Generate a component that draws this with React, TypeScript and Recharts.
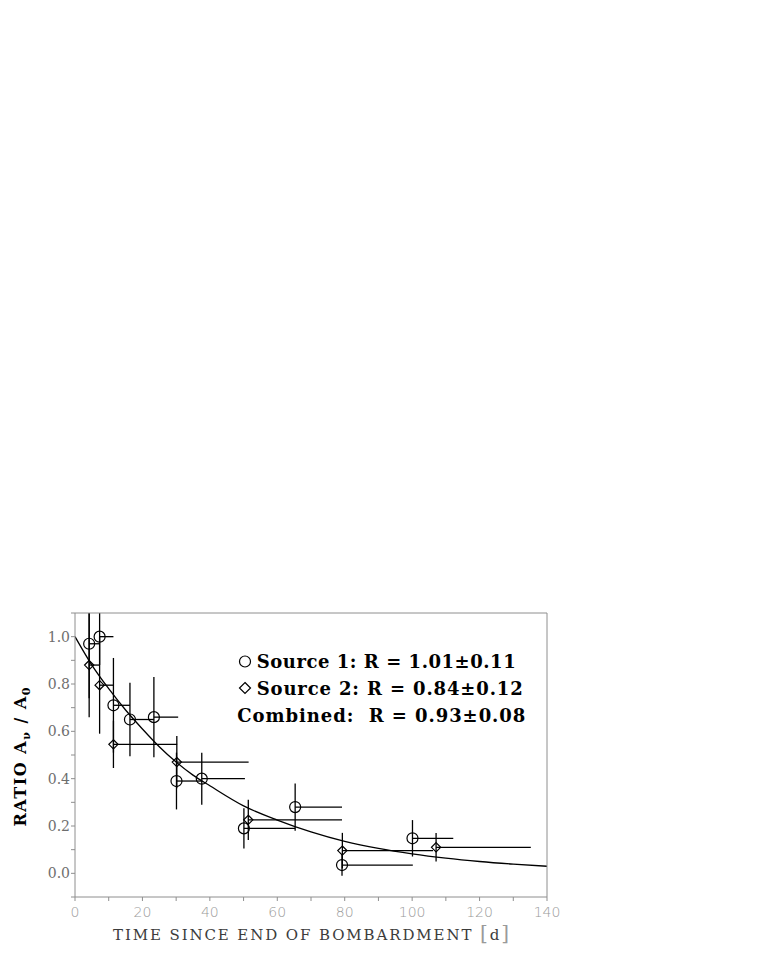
import React from 'react';
import {
  ComposedChart,
  Scatter,
  Line,
  XAxis,
  YAxis,
  ErrorBar,
  Label,
  Customized,
} from 'recharts';

// Source 1 (circles): time [d], ratio, ratio error, end of counting interval [d]
const S1_TIME = [4.2, 7.3, 11.4, 16.3, 23.4, 30.1, 37.6, 50.1, 65.3, 79.2, 100.1];
const S1_RATIO = [0.97, 1.0, 0.71, 0.65, 0.66, 0.39, 0.4, 0.19, 0.28, 0.035, 0.148];
const S1_ERR = [0.23, 0.12, 0.2, 0.155, 0.17, 0.12, 0.11, 0.085, 0.1, 0.045, 0.077];
const S1_END = [7.3, 11.4, 16.3, 23.4, 30.6, 37.6, 50.4, 65.3, 79.2, 100.2, 112.2];

// Source 2 (diamonds)
const S2_TIME = [4.2, 7.3, 11.4, 30.2, 51.4, 79.3, 107.1];
const S2_RATIO = [0.88, 0.795, 0.545, 0.47, 0.226, 0.096, 0.11];
const S2_ERR = [0.22, 0.205, 0.1, 0.11, 0.085, 0.075, 0.06];
const S2_END = [7.3, 11.4, 30.3, 51.5, 79.2, 106.2, 135.2];

// decay curve
const FIT_TIME = [0, 5, 10, 15, 20, 25, 30, 35, 40, 50, 60, 70, 80, 90, 100, 110, 120, 130, 140];
const FIT_RATIO = [1.0, 0.88, 0.78, 0.69, 0.61, 0.535, 0.47, 0.415, 0.37, 0.285, 0.225, 0.175, 0.135, 0.105, 0.082, 0.064, 0.05, 0.039, 0.03];

const X_TICKS = [0, 10, 20, 30, 40, 50, 60, 70, 80, 90, 100, 110, 120, 130, 140];
const Y_TICKS = [-0.1, 0, 0.1, 0.2, 0.3, 0.4, 0.5, 0.6, 0.7, 0.8, 0.9, 1.0, 1.1];

const LEGEND_LINES = [
  'Source 1: R = 1.01\u00b10.11',
  'Source 2: R = 0.84\u00b10.12',
  'Combined:  R = 0.93\u00b10.08',
];

const AXIS_GREY = '#8e8e8e';

type Row = { t: number; r: number; tErr: [number, number]; rErr: number };

function toRows(time: number[], ratio: number[], err: number[], end: number[]): Row[] {
  return time.map((t, i) => ({
    t,
    r: ratio[i],
    tErr: [0, end[i] - t],
    rErr: err[i],
  }));
}

const source1 = toRows(S1_TIME, S1_RATIO, S1_ERR, S1_END);
const source2 = toRows(S2_TIME, S2_RATIO, S2_ERR, S2_END);
const fit = FIT_TIME.map((t, i) => ({ t, r: FIT_RATIO[i] }));

const Ring = (p: any) => (
  <circle cx={p.cx} cy={p.cy} r={5.5} fill="none" stroke="#000" strokeWidth={1.2} />
);

const Diamond = (p: any) => {
  const s = 4.6;
  return (
    <path
      d={`M${p.cx},${p.cy - s}L${p.cx + s},${p.cy}L${p.cx},${p.cy + s}L${p.cx - s},${p.cy}Z`}
      fill="none"
      stroke="#000"
      strokeWidth={1.2}
    />
  );
};

const XTitle = () => (
  <text
    x={303}
    y={931.5}
    textAnchor="middle"
    fontFamily="DejaVu Serif"
    fontSize={15}
    fill="#3c3c3c"
    textLength={396}
    lengthAdjust="spacing"
    style={{ whiteSpace: 'pre' }}
  >
    TIME SINCE END OF BOMBARDMENT <tspan fill="#9a9a9a" fontSize={20}>[</tspan>d<tspan fill="#9a9a9a" fontSize={20}>]</tspan>
  </text>
);

const YTitle = () => (
  <text
    transform="translate(18,749) rotate(-90)"
    textAnchor="middle"
    fontFamily="DejaVu Serif"
    fontWeight="bold"
    fontSize={16}
    fill="#000"
    textLength={139}
    lengthAdjust="spacing"
  >
    RATIO A<tspan fontSize={11} dy={4}>{'\u03bd'}</tspan>
    <tspan dy={-4}> / A</tspan>
    <tspan fontSize={11} dy={4}>0</tspan>
  </text>
);

// legend block + clip rectangle for the error bars
const LegendBox = () => (
  <g fontFamily="DejaVu Serif" fontWeight="bold" fontSize={18} fill="#000">
    <defs>
      <clipPath id="plot-clip" clipPathUnits="userSpaceOnUse">
        <rect x={67} y={605} width={472} height={284} />
      </clipPath>
    </defs>
    <circle cx={237} cy={653.5} r={5.5} fill="none" stroke="#000" strokeWidth={1.2} />
    <path d="M237,674.5L242.5,680L237,685.5L231.5,680Z" fill="none" stroke="#000" strokeWidth={1.2} />
    <text x={248.7} y={660} textLength={259} lengthAdjust="spacing">{LEGEND_LINES[0]}</text>
    <text x={248.7} y={686.5} textLength={266} lengthAdjust="spacing">{LEGEND_LINES[1]}</text>
    <text x={229.3} y={713.5} textLength={288} lengthAdjust="spacing" style={{ whiteSpace: 'pre' }}>
      {LEGEND_LINES[2]}
    </text>
  </g>
);

const xLabel = (v: number) => (v % 20 === 0 ? String(v) : '');
const yLabel = (v: number) => {
  const k = Math.round(v * 10);
  return k >= 0 && k <= 10 && k % 2 === 0 ? (k / 10).toFixed(1) : '';
};

export default function App() {
  return (
    <div>
      <style>{'svg [class*="errorBar"] { clip-path: url(#plot-clip); }'}</style>
      <ComposedChart
        width={600}
        height={950}
        margin={{ top: 604, right: 60, bottom: 6, left: 7 }}
      >
        <XAxis
          xAxisId={0}
          dataKey="t"
          type="number"
          domain={[0, 140]}
          ticks={X_TICKS}
          interval={0}
          tickFormatter={xLabel}
          allowDataOverflow
          height={55}
          tickSize={4}
          tickMargin={6}
          axisLine={{ stroke: AXIS_GREY }}
          tickLine={{ stroke: AXIS_GREY }}
          tick={{ fill: '#9a9a9a', fontSize: 14, fontFamily: 'DejaVu Sans', fontWeight: 300 }}
        >
          <Label content={XTitle} />
        </XAxis>
        <XAxis
          xAxisId="top"
          orientation="top"
          dataKey="t"
          type="number"
          domain={[0, 140]}
          ticks={X_TICKS}
          interval={0}
          allowDataOverflow
          height={1}
          tickSize={4}
          tick={false}
          axisLine={{ stroke: AXIS_GREY }}
          tickLine={{ stroke: AXIS_GREY }}
        />
        <YAxis
          yAxisId={0}
          type="number"
          domain={[-0.1, 1.1]}
          ticks={Y_TICKS}
          interval={0}
          tickFormatter={yLabel}
          allowDataOverflow
          width={60}
          tickSize={4}
          tickMargin={1}
          axisLine={{ stroke: AXIS_GREY }}
          tickLine={{ stroke: AXIS_GREY }}
          tick={{ fill: '#6e6e6e', fontSize: 14, fontFamily: 'DejaVu Serif' }}
        >
          <Label content={YTitle} />
        </YAxis>
        <YAxis
          yAxisId="right"
          orientation="right"
          type="number"
          domain={[-0.1, 1.1]}
          ticks={Y_TICKS}
          interval={0}
          allowDataOverflow
          width={1}
          tickSize={4}
          tick={false}
          axisLine={{ stroke: AXIS_GREY }}
          tickLine={{ stroke: AXIS_GREY }}
        />
        <Customized component={LegendBox} />
        <Line
          data={fit}
          dataKey="r"
          type="monotone"
          stroke="#000"
          strokeWidth={1.3}
          dot={false}
          activeDot={false}
          isAnimationActive={false}
        />
        <Scatter data={source1} dataKey="r" shape={Ring} isAnimationActive={false}>
          <ErrorBar dataKey="rErr" direction="y" width={0} stroke="#000" strokeWidth={1.3} isAnimationActive={false} />
          <ErrorBar dataKey="tErr" direction="x" width={0} stroke="#000" strokeWidth={1.3} isAnimationActive={false} />
        </Scatter>
        <Scatter data={source2} dataKey="r" shape={Diamond} isAnimationActive={false}>
          <ErrorBar dataKey="rErr" direction="y" width={0} stroke="#000" strokeWidth={1.3} isAnimationActive={false} />
          <ErrorBar dataKey="tErr" direction="x" width={0} stroke="#000" strokeWidth={1.3} isAnimationActive={false} />
        </Scatter>
      </ComposedChart>
    </div>
  );
}
